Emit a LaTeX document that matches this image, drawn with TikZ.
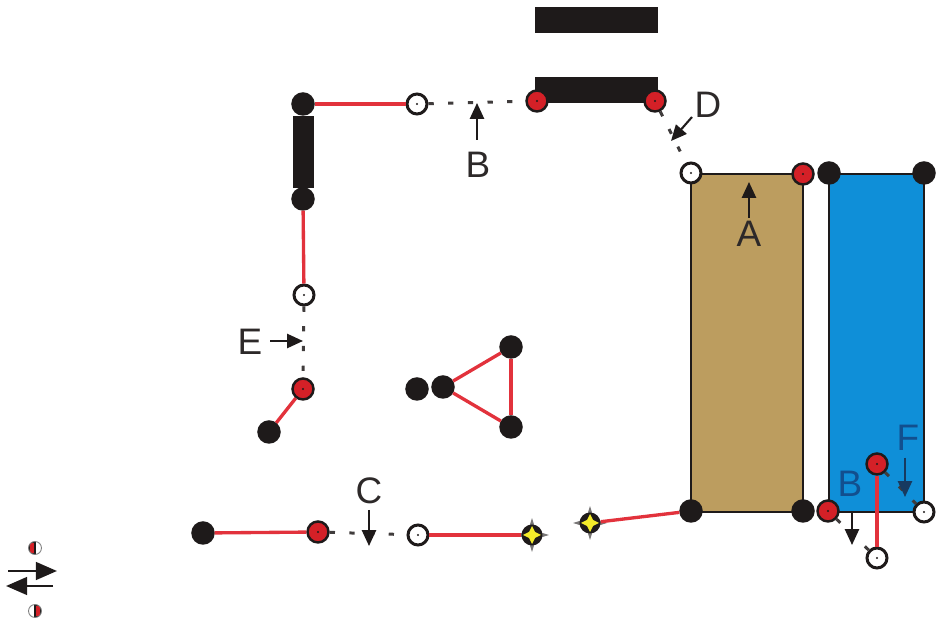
\documentclass[tikz,border=0pt]{standalone}
\usepackage{fontspec}
\setmainfont{Liberation Sans}
\usepackage{xcolor}
\usetikzlibrary{arrows.meta, shapes.geometric}
\definecolor{darkpin}{HTML}{1E1A1A}
\definecolor{redpin}{HTML}{D42027}
\definecolor{redlink}{HTML}{E2323C}
\definecolor{brownbody}{HTML}{BC9D5F}
\definecolor{bluebody}{HTML}{0F8FD8}
\definecolor{navyletter}{HTML}{124F8E}
\definecolor{starfill}{HTML}{F4EC2A}
\tikzset{
    pin/.style={circle, draw=darkpin, line width=1.4pt, inner sep=0pt, minimum size=0.42cm,
        path picture={\fill[darkpin] (path picture bounding box.center) circle (0.6pt);}},
    blackpin/.style={pin, fill=darkpin},
    redpin/.style={pin, fill=redpin},
    whitepin/.style={pin, fill=white, line width=1.7pt, minimum size=0.4cm},
    starspike/.style={star, star points=4, star point ratio=3, fill=darkpin!60!white, inner sep=0pt, minimum size=0.68cm},
    starpin/.style={circle, fill=darkpin, inner sep=0pt, minimum size=0.42cm,
        path picture={\fill[starfill, shift={(path picture bounding box.center)}]
            (0,-9) -- (3,-3) -- (9,0) -- (3,3) -- (0,9) -- (-3,3) -- (-9,0) -- (-3,-3) -- cycle;}},
    halfpin/.style={circle, draw=gray, line width=.5pt, fill=white, inner sep=0pt, minimum size=0.26cm},
    redlinkline/.style={redlink, line width=1.9pt},
    openlink/.style={darkpin!85!white, line width=1.7pt, dash pattern=on 3pt off 8.2pt},
    pointer/.style={darkpin, line width=1.2pt, -{Triangle[length=9pt, width=8pt]}},
    letter/.style={font=\fontsize{21}{24}\selectfont, text=darkpin!85!gray, inner sep=0pt},
    body/.style={draw=darkpin, line width=1.7pt},
}
\begin{document}
\begin{tikzpicture}[x=0.02cm, y=-0.02cm]
        \useasboundingbox (0,0) rectangle (938,621);
        % draw solid bars and bodies
        \fill[darkpin] (535,7) rectangle (658,33);
        \fill[darkpin] (535,77) rectangle (658,103);
        \fill[darkpin] (293,116) rectangle (314,188);
        \draw[body, fill=brownbody] (691,174) rectangle (803,512);
        \draw[body, fill=bluebody] (829,174) rectangle (924,512);
        % draw pins
        \foreach \name/\x/\y in {a/303/104, b/303/199, c/269/432, d/511/347, e/443/387, f/417/389,
            g/511/427, h/691/511, i/803/511, j/829/173, k/924/173, l/203/533}
        \node[blackpin] (\name) at (\x,\y) {};
        \foreach \name/\x/\y in {m/537/101, n/655/101, o/803/174, p/303/389, q/318/532, r/828/511, s/877/464}
        \node[redpin] (\name) at (\x,\y) {};
        \foreach \name/\x/\y in {t/417/104, u/691/173, v/304/295, w/418/535, y/924/512, z/877/558}
        \node[whitepin] (\name) at (\x,\y) {};
        \node[starspike] (spike1) at (532,535) {};
        \node[starspike] (spike2) at (590,523) {};
        \node[starpin] (star1) at (532,535) {};
        \node[starpin] (star2) at (590,523) {};
        % red links
        \foreach \from/\to in {a/t, b/v, p/c, l/q, star2/h, e/d, d/g, g/e}
        \draw[redlinkline] (\from) -- (\to);
        \draw[redlinkline, line width=2.6pt] (w) -- (star1);
        \draw[redlinkline, line width=2.2pt] (s) -- (z);
        % open links
        \foreach \from/\to in {t/m, n/u, v/p, q/w, r/z, s/y}
        \draw[openlink] (\from) -- (\to);
        % pointers and letters
        \foreach \name/\lx/\ly/\sx/\sy/\ex/\ey/\descr in {
            one/478/165/477/140/477/103/B,
            two/708/105/692/117/671/141/D,
            three/749/234/749/218/749/182/A,
            four/250/342/270/341/303/341/E,
            five/369/491/369/510/369/546/C}
        {
            \node[letter] (\name) at (\lx,\ly) {\descr};
            \coordinate (\name start) at (\sx,\sy);
            \coordinate (\name end) at (\ex,\ey);
            \draw[pointer] (\name start) -- (\name end);
        }
        % letters on the blue body
        \node[letter, text=navyletter] (blueb) at (850,484) {B};
        \node[letter, text=navyletter] (bluef) at (908,438) {F};
        \coordinate (bluefstart) at (905,458);
        \coordinate (bluefend) at (905,497);
        \draw[pointer, draw=navyletter!60!darkpin, fill=darkpin] (bluefstart) -- (bluefend);
        \coordinate (blackbstart) at (852,513);
        \coordinate (blackbend) at (852,545);
        \draw[pointer] (blackbstart) -- (blackbend);
        % key at lower left
        \node[halfpin, path picture={\fill[redpin] (path picture bounding box.north west) rectangle (path picture bounding box.south);}] (keytop) at (35,548) {};
        \node[halfpin, path picture={\fill[redpin] (path picture bounding box.north) rectangle (path picture bounding box.south east);}] (keybottom) at (35,611) {};
        \coordinate (keyrightstart) at (8,571);
        \coordinate (keyrightend) at (57,571);
        \coordinate (keyleftstart) at (53,586);
        \coordinate (keyleftend) at (6,586);
        \draw[darkpin, line width=1.6pt, -{Triangle[length=12pt, width=10pt]}] (keyrightstart) -- (keyrightend);
        \draw[darkpin, line width=1.6pt, -{Triangle[length=12pt, width=10pt]}] (keyleftstart) -- (keyleftend);
\end{tikzpicture}
\end{document}
